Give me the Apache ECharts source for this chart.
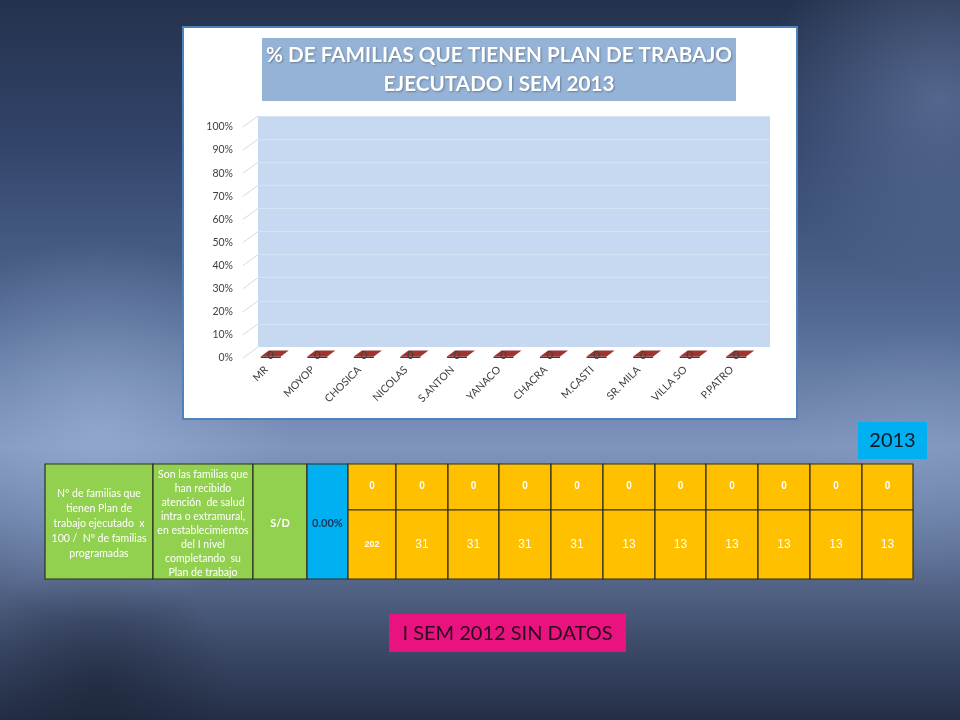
<!DOCTYPE html>
<html><head><meta charset="utf-8">
<script src="https://cdn.jsdelivr.net/npm/echarts@6/dist/echarts.min.js"></script>
<style>html,body{margin:0;padding:0;background:#2a3752}#c{width:960px;height:720px}</style>
</head><body><div id="c"></div>
<script>
// ---- data ----
const categories = ['MR','MOYOP','CHOSICA','NICOLAS','S.ANTON','YANACO','CHACRA','M.CASTI','SR. MILA','VILLA SO','P.PATRO'];
const percentValues = [0,0,0,0,0,0,0,0,0,0,0];
const yTickValues = [0,10,20,30,40,50,60,70,80,90,100];
const executedFamilies = [0,0,0,0,0,0,0,0,0,0,0];
const programmedFamilies = [202,31,31,31,31,13,13,13,13,13,13];
const chartTitle = '% DE FAMILIAS QUE TIENEN PLAN DE TRABAJO\nEJECUTADO I SEM 2013';
const indicatorText = 'Nº de familias que\ntienen Plan de\ntrabajo ejecutado  x\n100 /  Nº de familias\nprogramadas';
const definitionText = 'Son las familias que\nhan recibido\natención  de salud\nintra o extramural,\nen establecimientos\ndel I nivel\ncompletando  su\nPlan de trabajo';
const baselineText = 'S/D';
const resultText = '0.00%';
const yearLabel = '2013';
const noteText = 'I SEM 2012 SIN DATOS';

// ---- layout ----
const FRONT = {left:243, top:127, width:512, height:231};
const BACK = {left:258, top:116, width:512, height:231};
const DEPTH = [15, -11];
const colEdges = [45,153,253,307,348,396,448,499,551,603,655,706,758,810,862,913];
const rowEdges = [464,510,579];
const CAL = 'Lato, "Open Sans", sans-serif';
const ARI = '"Liberation Sans", Arial, sans-serif';

function txt(x, y, text, opt) {
  return {
    type:'text', z: 20, silent:true,
    style: Object.assign({x:x, y:y, text:String(text), align:'center', verticalAlign:'middle',
      textAlign:'center', textVerticalAlign:'middle'}, opt)
  };
}
function radial(x, y, w, h, color, a) {
  return {type:'rect', z:-19, silent:true, shape:{x:x,y:y,width:w,height:h},
    style:{fill:{type:'radial',x:0.5,y:0.5,r:0.5,colorStops:[
      {offset:0,color:'rgba('+color+','+a+')'},{offset:1,color:'rgba('+color+',0)'}]}}};
}

const graphics = [];
// background
graphics.push({type:'rect', z:-20, silent:true, shape:{x:0,y:0,width:960,height:720},
  style:{fill:{type:'linear',x:0,y:0,x2:0,y2:1,colorStops:[
    {offset:0,color:'#25324d'},{offset:0.2,color:'#32446a'},{offset:0.45,color:'#546b95'},
    {offset:0.62,color:'#7f95bd'},{offset:0.72,color:'#687da4'},{offset:0.8,color:'#56678b'},
    {offset:0.9,color:'#3b4967'},{offset:1,color:'#242e46'}]}}});
graphics.push(radial(-220, 240, 640, 380, '160,182,220', 0.55));
graphics.push(radial(760, -80, 360, 360, '120,142,185', 0.5));
graphics.push(radial(720, 330, 400, 260, '140,160,200', 0.35));
graphics.push(radial(-150, 560, 500, 260, '20,28,45', 0.45));
// chart panel
graphics.push({type:'rect', z:-10, silent:true, shape:{x:183,y:27,width:614,height:392},
  style:{fill:'#ffffff', stroke:'#4f81bd', lineWidth:2}});
// title box
graphics.push({type:'rect', z:-9, silent:true, shape:{x:262,y:38,width:474,height:63},
  style:{fill:'#95b3d7'}});
graphics.push(txt(499, 70, chartTitle, {fill:'#ffffff', font:'bold 20.7px '+CAL, lineHeight:29,
  textShadowColor:'rgba(0,0,0,0.3)', textShadowBlur:2, textShadowOffsetX:1, textShadowOffsetY:1}));

// table
function cell(x0,y0,x1,y1,fill){
  graphics.push({type:'rect', z:15, silent:true, shape:{x:x0,y:y0,width:x1-x0,height:y1-y0},
    style:{fill:fill, stroke:'#2f2f22', lineWidth:1.2}});
}
const ty0 = rowEdges[0], ty1 = rowEdges[2], tmid = (ty0+ty1)/2;
cell(colEdges[0],ty0,colEdges[1],ty1,'#92d050');
graphics.push(txt((colEdges[0]+colEdges[1])/2, tmid+2, indicatorText, {fill:'#ffffff', font:'10.5px '+CAL, lineHeight:15}));
cell(colEdges[1],ty0,colEdges[2],ty1,'#92d050');
graphics.push(txt((colEdges[1]+colEdges[2])/2, tmid+2, definitionText, {fill:'#ffffff', font:'10.5px '+CAL, lineHeight:14.1}));
cell(colEdges[2],ty0,colEdges[3],ty1,'#92d050');
graphics.push(txt((colEdges[2]+colEdges[3])/2, tmid+2, baselineText, {fill:'#ffffff', font:'bold 11px '+CAL}));
cell(colEdges[3],ty0,colEdges[4],ty1,'#00b0f0');
graphics.push(txt((colEdges[3]+colEdges[4])/2, tmid+2, resultText, {fill:'#17365d', font:'bold 11px '+CAL}));
for (let i = 0; i < executedFamilies.length; i++) {
  const x0 = colEdges[4+i], x1 = colEdges[5+i], cx = (x0+x1)/2;
  cell(x0,rowEdges[0],x1,rowEdges[1],'#ffc000');
  cell(x0,rowEdges[1],x1,rowEdges[2],'#ffc000');
  graphics.push(txt(cx, (rowEdges[0]+rowEdges[1])/2 - 1, executedFamilies[i], {fill:'#ffffff', font:'bold 10px '+ARI}));
  graphics.push(txt(cx, (rowEdges[1]+rowEdges[2])/2, programmedFamilies[i],
    {fill:'#ffffff', font: i===0 ? 'bold 9px '+ARI : '12px '+ARI}));
}
// year box
graphics.push({type:'rect', z:15, silent:true, shape:{x:858,y:422,width:69,height:37}, style:{fill:'#00b0f0'}});
graphics.push(txt(892.5, 441, yearLabel, {fill:'#0d1a2e', font:'20px '+CAL}));
// note box
graphics.push({type:'rect', z:15, silent:true, shape:{x:389,y:614,width:237,height:38}, style:{fill:'#e8137f'}});
graphics.push(txt(507.5, 634, noteText, {fill:'#2a0a1e', font:'20px '+CAL}));

const chart = echarts.init(document.getElementById('c'), null, {renderer:'canvas'});
chart.setOption({
  animation:false,
  backgroundColor:'transparent',
  graphic:{elements:graphics},
  grid:[
    Object.assign({show:true, backgroundColor:'#c6d9f1', borderWidth:0, containLabel:false}, BACK),
    Object.assign({show:false, containLabel:false}, FRONT)
  ],
  xAxis:[
    {gridIndex:0, type:'category', data:categories, show:false},
    {gridIndex:1, type:'category', data:categories, axisLine:{show:false}, axisTick:{show:false},
     axisLabel:{interval:0, rotate:45, fontSize:10.5, color:'#404040', fontFamily:CAL, margin:10}}
  ],
  yAxis:[
    {gridIndex:0, type:'value', min:0, max:100, interval:10, axisLabel:{show:false}, axisLine:{show:false},
     axisTick:{show:false}, splitLine:{show:true, lineStyle:{color:'rgba(255,255,255,0.28)', width:1}}},
    {gridIndex:1, type:'value', min:0, max:100, interval:10, axisLine:{show:false}, axisTick:{show:false},
     splitLine:{show:false}, axisLabel:{formatter:'{value}%', fontSize:10.5, color:'#404040', fontFamily:CAL, margin:10}}
  ],
  series:[
    {type:'custom', xAxisIndex:1, yAxisIndex:1, silent:true, z:3,
     data: yTickValues.map(v => [0, v]),
     renderItem:function(params, api){
       const p = api.coord([api.value(0), api.value(1)]);
       const left = p[0] - api.size([1,0])[0]/2;
       return {type:'line', shape:{x1:left, y1:p[1], x2:left+DEPTH[0], y2:p[1]+DEPTH[1]},
         style:{stroke:'#d9d9d9', lineWidth:1}};
     }},
    {type:'custom', xAxisIndex:1, yAxisIndex:1, silent:true, z:4,
     data: percentValues.map((v,i) => [i, v]),
     renderItem:function(params, api){
       const top = api.coord([api.value(0), api.value(1)]);
       const base = api.coord([api.value(0), 0]);
       const cx = top[0] + DEPTH[0]/2 + 1, hw = 10, sx = 4, sy = 3;
       const ty = top[1] + DEPTH[1]/2 + 1;
       const by = base[1] + DEPTH[1]/2 + 1;
       return {type:'group', children:[
         {type:'rect', shape:{x:cx-hw-sx, y:ty+sy, width:2*hw, height:Math.max(1.5, by-ty)},
          style:{fill:'#6e2422'}},
         {type:'polygon', shape:{points:[[cx-hw-sx,ty+sy],[cx+hw-sx,ty+sy],[cx+hw+sx,ty-sy],[cx-hw+sx,ty-sy]]},
          style:{fill:'#9e3532'}},
         {type:'text', style:{x:cx-4, y:ty+2, text:String(api.value(1)), fill:'#404040',
           font:'11px '+CAL, align:'center', verticalAlign:'middle'}}
       ]};
     }}
  ]
});
</script></body></html>
